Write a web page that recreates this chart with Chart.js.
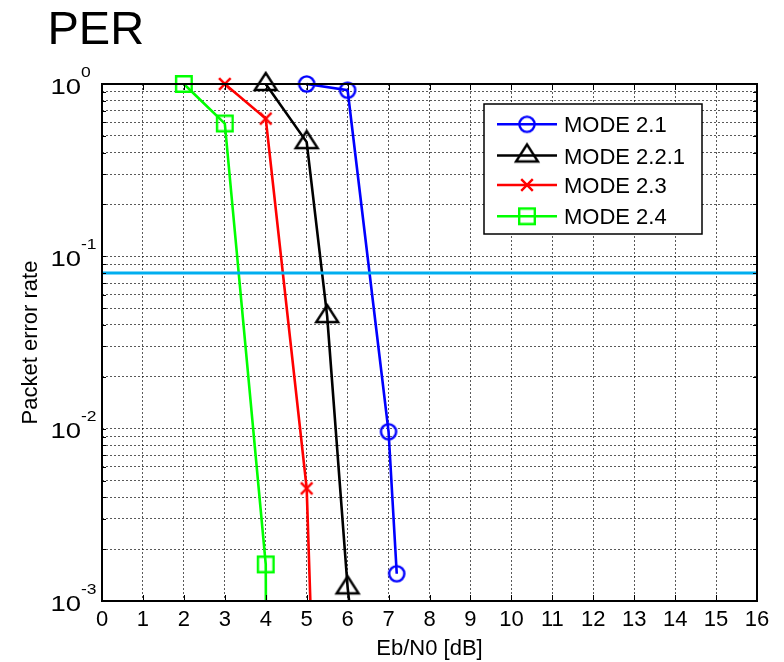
<!DOCTYPE html>
<html><head><meta charset="utf-8">
<script src="https://cdn.jsdelivr.net/npm/chart.js@4.4.0/dist/chart.umd.min.js"></script>
<style>html,body{margin:0;padding:0;background:#fff}#wrap{width:784px;height:662px}canvas{display:block}</style>
</head><body><div id="wrap"><canvas id="c" width="784" height="662"></canvas></div>
<script>
// ---------------- data ----------------
const titleText = 'PER';
const xAxisTitle = 'Eb/N0 [dB]';
const yAxisTitle = 'Packet error rate';
const seriesNames = ['MODE 2.1', 'MODE 2.2.1', 'MODE 2.3', 'MODE 2.4'];

const ebn0Mode21  = [5, 6, 7, 7.2];
const perMode21   = [1.0, 0.92, 0.0096, 0.00144];
const ebn0Mode221 = [4, 5, 5.5, 6, 6.5];
const perMode221  = [1.0, 0.46, 0.045, 0.0012, 0.0001];
const ebn0Mode23  = [3, 4, 5, 5.5];
const perMode23   = [1.0, 0.63, 0.0045, 0.000001];
const ebn0Mode24  = [2, 3, 4, 4.05];
const perMode24   = [1.0, 0.59, 0.00163, 0.000001];

const thresholdX   = [0, 16];
const thresholdPER = [0.08, 0.08];

const xTickValues = [0,1,2,3,4,5,6,7,8,9,10,11,12,13,14,15,16];
const yDecades = [1e-3, 1e-2, 1e-1, 1];
const yDecadeExponents = ['-3', '-2', '-1', '0'];
const yMinorMultipliers = [1,2,3,4,5,6,7,8,9];

// ---------------- helpers ----------------
const FONT = "'Liberation Sans', Arial, Helvetica, sans-serif";
const yGridValues = [];
yDecades.forEach(d => { if (d < 1) yMinorMultipliers.forEach(m => yGridValues.push(+(m * d).toPrecision(6))); else yGridValues.push(d); });

function toPoints(xs, ys) { return xs.map((x, i) => ({ x: x, y: ys[i] })); }

function makeMarker(kind, color) {
  const c = document.createElement('canvas');
  const size = 28; c.width = size; c.height = size;
  const g = c.getContext('2d');
  const m = size / 2;
  g.strokeStyle = color; g.lineWidth = 2.4; g.lineJoin = 'miter';
  g.beginPath();
  if (kind === 'circle') { g.arc(m, m, 7.6, 0, Math.PI * 2); }
  else if (kind === 'triangle') { g.moveTo(m, m - 11); g.lineTo(m + 11, m + 6); g.lineTo(m - 11, m + 6); g.closePath(); }
  else if (kind === 'x') { const r = 5.8; g.moveTo(m - r, m - r); g.lineTo(m + r, m + r); g.moveTo(m + r, m - r); g.lineTo(m - r, m + r); }
  else if (kind === 'square') { g.rect(m - 7.8, m - 7.8, 15.6, 15.6); }
  g.stroke();
  return c;
}

const seriesColors = ['#0000FF', '#000000', '#FF0000', '#00FF00'];
const markerKinds = ['circle', 'triangle', 'x', 'square'];
const markers = markerKinds.map((k, i) => makeMarker(k, seriesColors[i]));
const seriesData = [
  toPoints(ebn0Mode21, perMode21),
  toPoints(ebn0Mode221, perMode221),
  toPoints(ebn0Mode23, perMode23),
  toPoints(ebn0Mode24, perMode24)
];

const datasets = seriesData.map((pts, i) => ({
  label: seriesNames[i],
  data: pts,
  borderColor: seriesColors[i],
  backgroundColor: seriesColors[i],
  borderWidth: 2.6,
  pointStyle: markers[i],
  pointRadius: 8,
  pointHoverRadius: 8,
  tension: 0,
  order: 4 - i,
  clip: { left: 15, top: 20, right: 15, bottom: 1 }
}));
datasets.push({
  label: 'threshold',
  data: toPoints(thresholdX, thresholdPER),
  borderColor: '#00AEEF',
  borderWidth: 3,
  pointRadius: 0,
  order: 0,
  clip: 0
});

const gridColor = 'rgba(0,0,0,0.65)';

const decorPlugin = {
  id: 'decor',
  afterDraw(chart) {
    const ctx = chart.ctx, a = chart.chartArea, xs = chart.scales.x, ys = chart.scales.y;
    ctx.save();
    // inward tick marks
    ctx.strokeStyle = '#000'; ctx.lineWidth = 1;
    ctx.beginPath();
    yGridValues.forEach(v => {
      const y = Math.round(ys.getPixelForValue(v)) + 0.5;
      ctx.moveTo(a.left, y); ctx.lineTo(a.left + 4, y);
      ctx.moveTo(a.right, y); ctx.lineTo(a.right - 4, y);
    });
    xTickValues.forEach(v => {
      const x = Math.round(xs.getPixelForValue(v)) + 0.5;
      ctx.moveTo(x, a.bottom); ctx.lineTo(x, a.bottom - 6);
      ctx.moveTo(x, a.top); ctx.lineTo(x, a.top + 6);
    });
    ctx.stroke();
    // axes box
    ctx.lineWidth = 2;
    ctx.strokeRect(a.left, a.top, a.right - a.left, a.bottom - a.top);

    // y decade labels 10^k
    ctx.fillStyle = '#000';
    const stretch = 1.25;
    yDecades.forEach((d, i) => {
      const y = ys.getPixelForValue(d);
      ctx.save();
      ctx.translate(81, y + 9.5);
      ctx.scale(stretch, 1);
      ctx.font = '22px ' + FONT; ctx.textAlign = 'right'; ctx.textBaseline = 'alphabetic';
      ctx.fillText('10', 0, 0);
      ctx.restore();
      ctx.save();
      ctx.translate(81, y - 7.5);
      ctx.scale(stretch, 1);
      ctx.font = '14px ' + FONT; ctx.textAlign = 'left'; ctx.textBaseline = 'alphabetic';
      ctx.fillText(yDecadeExponents[i], 0, 0);
      ctx.restore();
    });

    // title
    ctx.font = '47px ' + FONT; ctx.textAlign = 'left'; ctx.textBaseline = 'alphabetic';
    ctx.fillText(titleText, 47.5, 43.5);

    // legend
    const lx = 484, ly = 104, lw = 218, lh = 130;
    ctx.fillStyle = '#fff';
    ctx.fillRect(lx, ly, lw, lh);
    ctx.strokeStyle = '#000'; ctx.lineWidth = 1.5;
    ctx.strokeRect(lx, ly, lw, lh);
    const rows = [124.3, 155.5, 185, 216.3];
    seriesNames.forEach((name, i) => {
      const ry = rows[i];
      ctx.strokeStyle = seriesColors[i]; ctx.lineWidth = 2.6;
      ctx.beginPath(); ctx.moveTo(497, ry); ctx.lineTo(557, ry); ctx.stroke();
      const mk = markers[i];
      ctx.drawImage(mk, 527 - mk.width / 2, ry - mk.height / 2);
      ctx.fillStyle = '#000';
      ctx.font = '22px ' + FONT; ctx.textAlign = 'left'; ctx.textBaseline = 'alphabetic';
      ctx.fillText(name, 564, ry + 8);
    });
    ctx.restore();
  }
};

new Chart(document.getElementById('c'), {
  type: 'line',
  data: { datasets: datasets },
  options: {
    responsive: false,
    animation: false,
    devicePixelRatio: 1,
    layout: { padding: { left: 0, top: 84, right: 27, bottom: 0 } },
    plugins: { legend: { display: false }, tooltip: { enabled: false }, title: { display: false } },
    scales: {
      x: {
        type: 'linear', min: 0, max: 16,
        afterFit: s => { s.height = 61; },
        ticks: { stepSize: 1, autoSkip: false, maxRotation: 0, color: '#000', padding: 6,
                 font: { family: FONT, size: 22 } },
        grid: { color: gridColor, lineWidth: 1, drawTicks: false },
        border: { display: false, dash: [2, 2] },
        title: { display: true, text: xAxisTitle, color: '#000', font: { family: FONT, size: 22 }, padding: { top: 0, bottom: 0 } }
      },
      y: {
        type: 'logarithmic', min: 1e-3, max: 1,
        afterFit: s => { s.width = 102; },
        afterBuildTicks: s => { s.ticks = yGridValues.map(v => ({ value: v })); },
        ticks: { display: false },
        grid: { color: gridColor, lineWidth: 1, drawTicks: false },
        border: { display: false, dash: [2, 2] },
        title: { display: true, text: yAxisTitle, color: '#000', font: { family: FONT, size: 22 }, padding: { top: 18, bottom: 0 } }
      }
    }
  },
  plugins: [decorPlugin]
});
</script>
</body></html>
